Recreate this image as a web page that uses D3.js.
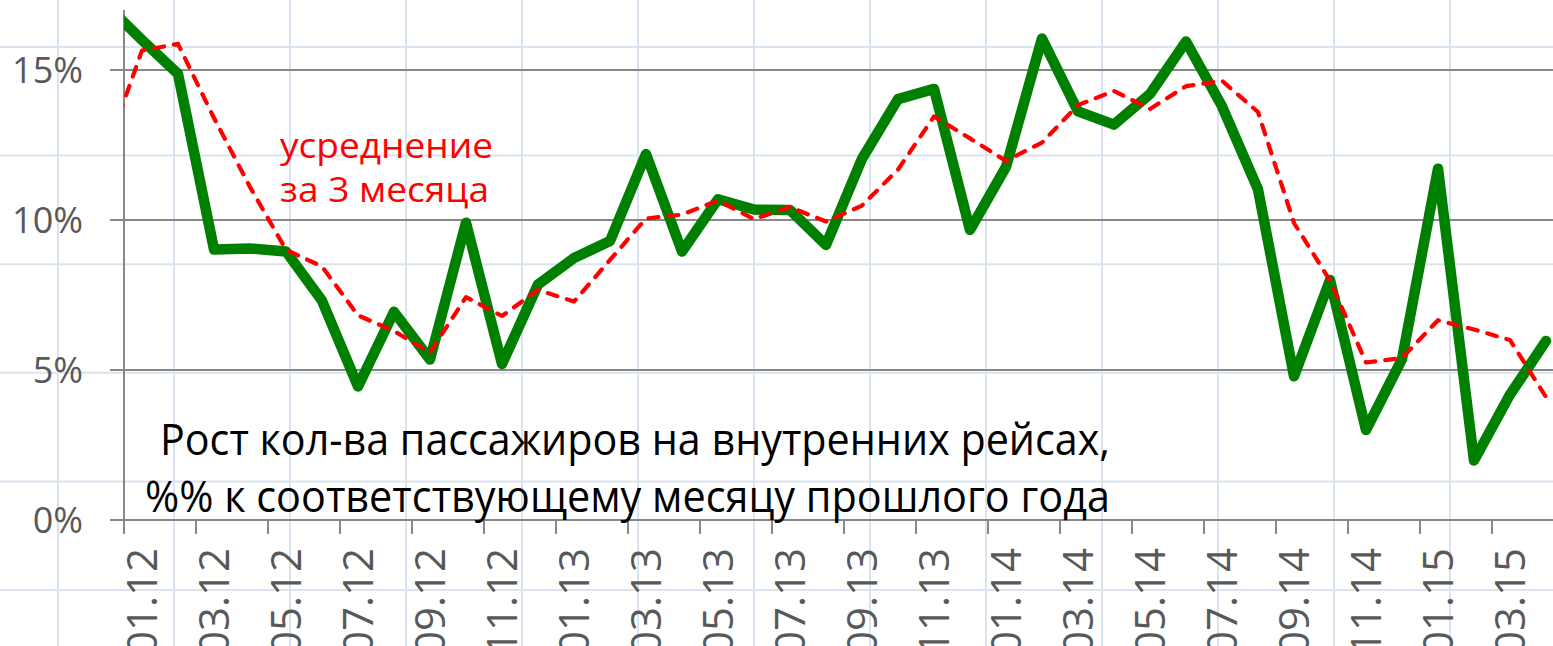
<!DOCTYPE html>
<html><head><meta charset="utf-8">
<script src="https://cdn.jsdelivr.net/npm/d3@7"></script>
<style>html,body{margin:0;padding:0;background:#fff;overflow:hidden}svg{display:block}</style>
</head><body>
<svg id="chart" width="1553" height="646"></svg>
<script>
// ---- data ----
const months = ["12.11",
  "01.12","02.12","03.12","04.12","05.12","06.12","07.12","08.12","09.12","10.12","11.12","12.12",
  "01.13","02.13","03.13","04.13","05.13","06.13","07.13","08.13","09.13","10.13","11.13","12.13",
  "01.14","02.14","03.14","04.14","05.14","06.14","07.14","08.14","09.14","10.14","11.14","12.14",
  "01.15","02.15","03.15","04.15"];
const growth = [17.18,
  16.0,14.87,9.02,9.05,8.95,7.31,4.45,6.94,5.35,9.91,5.2,7.85,
  8.73,9.3,12.2,8.95,10.69,10.35,10.33,9.17,12.04,14.03,14.37,9.67,
  11.77,16.05,13.62,13.18,14.2,15.95,13.79,11.02,4.79,8.0,3.0,5.36,
  11.71,1.98,4.18,5.97];
const avg3 = [12.27,
  15.65,15.87,13.4,11.1,9.01,8.45,6.82,6.3,5.58,7.43,6.8,7.67,
  7.28,8.67,10.05,10.18,10.65,10.03,10.43,9.95,10.48,11.68,13.45,12.72,
  11.97,12.58,13.83,14.3,13.7,14.46,14.64,13.6,9.9,7.98,5.25,5.4,
  6.66,6.35,6.0,4.1];
const xTickLabels = ["01.12","03.12","05.12","07.12","09.12","11.12","01.13","03.13","05.13","07.13",
  "09.13","11.13","01.14","03.14","05.14","07.14","09.14","11.14","01.15","03.15"];
const yTicks = [0,5,10,15];
const titleLines = ["Рост кол-ва пассажиров на внутренних рейсах,","%% к соответствующему месяцу прошлого года"];
const noteLines = ["усреднение","за 3 месяца"];

// ---- layout ----
const W = 1553, H = 646;
const svg = d3.select("#chart");
const FONT = "'Open Sans', 'Noto Sans', sans-serif";

const x = d3.scaleBand().domain(months).range([88, 88 + months.length * 36]).padding(0);
const bw = x.bandwidth();
const cx = m => x(m) + bw / 2;
const y = d3.scaleLinear().domain([0, 17]).range([520, 10]);
const plotLeft = x("01.12");

// notebook-paper background grid
const bg = svg.append("g");
bg.selectAll("line.v").data(d3.range(0, 13)).join("line")
  .attr("x1", k => 58 + 116 * k).attr("x2", k => 58 + 116 * k)
  .attr("y1", 0).attr("y2", H)
  .attr("stroke", "#dae4f1").attr("stroke-width", 2);
bg.selectAll("line.h").data(d3.range(0, 6)).join("line")
  .attr("y1", k => 47 + 108.6 * k).attr("y2", k => 47 + 108.6 * k)
  .attr("x1", 0).attr("x2", W)
  .attr("stroke", "#dae4f1").attr("stroke-width", 2);

// horizontal gridlines + y ticks
const axisColor = "#888888";
svg.append("g").selectAll("line").data(yTicks).join("line")
  .attr("x1", plotLeft - 14).attr("x2", W)
  .attr("y1", d => y(d)).attr("y2", d => y(d))
  .attr("stroke", axisColor).attr("stroke-width", 2);

// y axis line
svg.append("line")
  .attr("x1", plotLeft).attr("x2", plotLeft)
  .attr("y1", y(17)).attr("y2", y(0) + 14)
  .attr("stroke", axisColor).attr("stroke-width", 2);

// y labels
svg.append("g").selectAll("text").data(yTicks).join("text")
  .attr("x", 83).attr("y", d => y(d) + 13)
  .attr("text-anchor", "end")
  .attr("font-family", FONT).attr("font-size", 36)
  .attr("fill", "#595959")
  .text(d => d + "%");

// x tick marks at band boundaries
svg.append("g").selectAll("line").data(xTickLabels).join("line")
  .attr("x1", d => x(d)).attr("x2", d => x(d))
  .attr("y1", y(0)).attr("y2", y(0) + 14)
  .attr("stroke", axisColor).attr("stroke-width", 2);

// x labels (rotated)
svg.append("g").selectAll("text").data(xTickLabels).join("text")
  .attr("transform", d => `translate(${cx(d) + 15},548) rotate(-90)`)
  .attr("text-anchor", "end")
  .attr("font-family", FONT).attr("font-size", 42)
  .attr("fill", "#595959")
  .text(d => d);

// clip for data lines
svg.append("clipPath").attr("id", "plotClip")
  .append("rect").attr("x", plotLeft).attr("y", 0).attr("width", W - plotLeft).attr("height", H);

const plot = svg.append("g").attr("clip-path", "url(#plotClip)");

const lineGen = d3.line().x((d, i) => cx(months[i])).y(d => y(d));

plot.append("path").datum(growth)
  .attr("d", lineGen)
  .attr("fill", "none").attr("stroke", "#008000")
  .attr("stroke-width", 10.5)
  .attr("stroke-linejoin", "round").attr("stroke-linecap", "round");

plot.append("path").datum(avg3)
  .attr("d", lineGen)
  .attr("fill", "none").attr("stroke", "#ff0000")
  .attr("stroke-width", 4.2)
  .attr("stroke-dasharray", "10,10")
  .attr("stroke-linejoin", "round").attr("stroke-linecap", "round");

// annotation (red)
const notePos = [{x: 280, y: 158, w: 213}, {x: 280, y: 202, w: 209}];
svg.append("g").selectAll("text").data(noteLines).join("text")
  .attr("x", (d, i) => notePos[i].x).attr("y", (d, i) => notePos[i].y)
  .attr("textLength", (d, i) => notePos[i].w).attr("lengthAdjust", "spacingAndGlyphs")
  .attr("font-family", FONT).attr("font-size", 35)
  .attr("fill", "#ff0000")
  .text(d => d);

// title (black)
const titlePos = [{x: 160, y: 455, w: 950}, {x: 145, y: 512, w: 965}];
svg.append("g").selectAll("text").data(titleLines).join("text")
  .attr("x", (d, i) => titlePos[i].x).attr("y", (d, i) => titlePos[i].y)
  .attr("textLength", (d, i) => titlePos[i].w).attr("lengthAdjust", "spacingAndGlyphs")
  .attr("font-family", FONT).attr("font-size", 43)
  .attr("fill", "#000000")
  .text(d => d);
</script>
</body></html>
